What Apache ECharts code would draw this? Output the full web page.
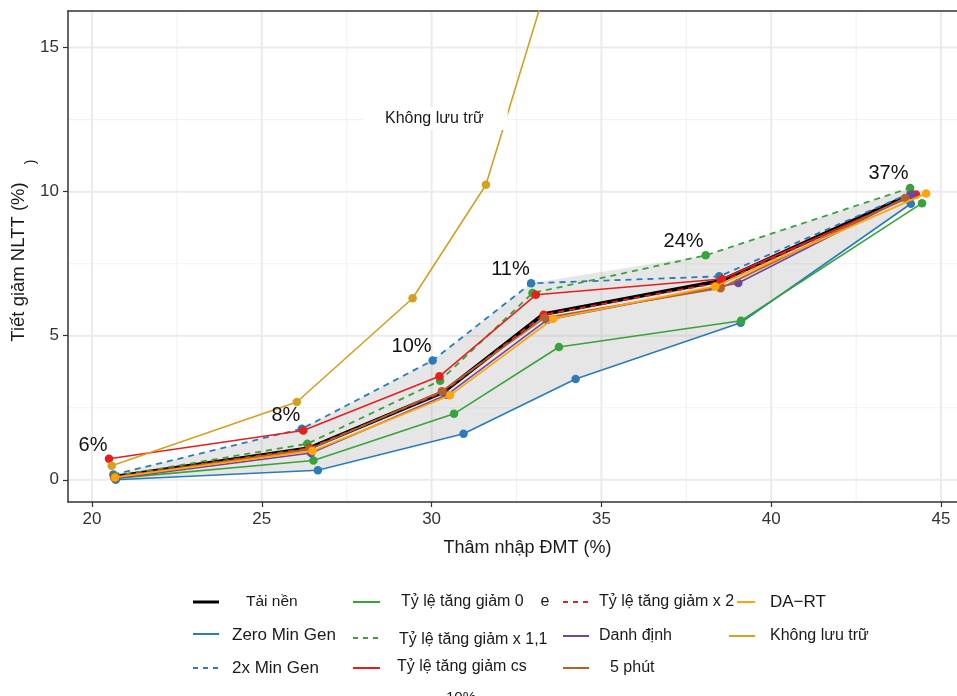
<!DOCTYPE html>
<html><head><meta charset="utf-8">
<script src="https://cdn.jsdelivr.net/npm/echarts@6/dist/echarts.min.js"></script>
<style>html,body{margin:0;padding:0;background:#fff}#c{width:957px;height:696px}</style>
</head><body><div id="c"></div>
<script>
// ---------- data ----------
const xTicks = [20, 25, 30, 35, 40, 45];
const yTicks = [0, 5, 10, 15];
const xMinor = [22.5, 27.5, 32.5, 37.5, 42.5];
const yMinor = [2.5, 7.5, 12.5];

const taiNen      = [[20.65,0.10],[26.40,1.10],[30.35,3.05],[33.30,5.75],[38.50,6.90],[44.10,9.90]];
const zeroMinGen  = [[20.70,0.00],[26.65,0.33],[30.94,1.60],[34.24,3.50],[39.10,5.45],[44.11,9.58]];
const twoMinGen   = [[20.63,0.18],[26.18,1.77],[30.03,4.14],[32.93,6.82],[38.47,7.06],[44.10,9.95]];
const tlg0        = [[20.68,0.05],[26.52,0.67],[30.66,2.29],[33.75,4.61],[39.11,5.52],[44.44,9.60]];
const tlg11       = [[20.65,0.12],[26.34,1.25],[30.25,3.44],[32.97,6.48],[38.07,7.79],[44.09,10.13]];
const tlgCs       = [[20.50,0.73],[26.22,1.71],[30.23,3.59],[33.07,6.42],[38.55,6.97],[44.26,9.90]];
const tlgX2       = [[20.65,0.10],[26.40,1.10],[30.35,3.05],[33.30,5.73],[38.50,6.85],[44.15,9.87]];
const danhDinh    = [[20.68,0.05],[26.45,0.93],[30.45,2.95],[33.40,5.55],[39.03,6.83],[44.14,9.90]];
const namPhut     = [[20.66,0.08],[26.40,1.06],[30.30,3.07],[33.32,5.62],[38.51,6.65],[43.94,9.78]];
const daRT        = [[20.68,0.08],[26.49,1.00],[30.54,2.93],[33.58,5.59],[38.35,6.71],[44.56,9.94]];
const khongLuuTru = [[20.58,0.49],[26.03,2.70],[29.44,6.30],[31.60,10.24],[35.00,23.40]];

const pctLabels = ['6%', '8%', '10%', '11%', '24%', '37%'];
const pctX = [20.03, 25.71, 29.41, 32.32, 37.42, 43.45];
const pctY = [1.19, 2.23, 4.63, 7.29, 8.28, 10.62];

// ---------- styles ----------
const FONT = 'Liberation Sans, Arial, Helvetica, sans-serif';
const seriesDefs = [
  {name:'Tải nền', data:taiNen, color:'#000000', width:3.8, dash:null, sym:false},
  {name:'Zero Min Gen', data:zeroMinGen, color:'#2b7bb9', width:1.6, dash:null, sym:true},
  {name:'2x Min Gen', data:twoMinGen, color:'#2b7bb9', width:1.8, dash:[6,5], sym:true},
  {name:'Tỷ lệ tăng giảm 0', data:tlg0, color:'#38a33a', width:1.6, dash:null, sym:true},
  {name:'Tỷ lệ tăng giảm x 1,1', data:tlg11, color:'#38a33a', width:1.8, dash:[6,5], sym:true},
  {name:'Tỷ lệ tăng giảm cs', data:tlgCs, color:'#e3201c', width:1.6, dash:null, sym:true},
  {name:'Tỷ lệ tăng giảm x 2', data:tlgX2, color:'#e3201c', width:1.8, dash:[6,5], sym:true},
  {name:'Danh định', data:danhDinh, color:'#6e479c', width:1.6, dash:null, sym:true},
  {name:'5 phút', data:namPhut, color:'#b5612c', width:1.8, dash:null, sym:true},
  {name:'DA-RT', data:daRT, color:'#ffa50a', width:1.8, dash:null, sym:true},
  {name:'Không lưu trữ', data:khongLuuTru, color:'#d4a020', width:1.6, dash:null, sym:true}
];
const envelope = [taiNen, zeroMinGen, twoMinGen, tlg0, tlg11, tlgX2, danhDinh, namPhut, daRT];

const legendLayout = {
  'Tải nền':               {lx:[193,219], ly:602, tx:246, ty:602, fs:15.5},
  'Zero Min Gen':          {lx:[193,219], ly:634, tx:232, ty:635, fs:17},
  '2x Min Gen':            {lx:[193,219], ly:668, tx:232, ty:668, fs:17},
  'Tỷ lệ tăng giảm 0':     {lx:[353,380], ly:602, tx:401, ty:602, fs:16},
  'Tỷ lệ tăng giảm x 1,1': {lx:[353,380], ly:638, tx:399, ty:640, fs:16},
  'Tỷ lệ tăng giảm cs':    {lx:[353,380], ly:668, tx:397, ty:667, fs:16},
  'Tỷ lệ tăng giảm x 2':   {lx:[563,589], ly:602, tx:599, ty:602, fs:16},
  'Danh định':             {lx:[563,589], ly:636, tx:599, ty:636, fs:16},
  '5 phút':                {lx:[563,589], ly:668, tx:610, ty:668, fs:16},
  'DA-RT':                 {lx:[737,755], ly:602, tx:770, ty:602, fs:17, label:'DA\u2212RT'},
  'Không lưu trữ':         {lx:[729,755], ly:636, tx:770, ty:636, fs:16}
};

const chart = echarts.init(document.getElementById('c'), null, {renderer:'canvas'});

const X_MIN = 19.293, X_MAX = 45.47, Y_MIN = -0.771, Y_MAX = 16.27;

const series = [];
// gridlines
series.push({
  type:'custom', name:'_grid', z:0, silent:true, data:[[30,5]],
  renderItem:function(params, api){
    const cs = params.coordSys;
    const ch = [];
    const vline = (v, major) => { const p = api.coord([v, 0]); ch.push({type:'line', shape:{x1:p[0], y1:cs.y, x2:p[0], y2:cs.y+cs.height}, style:{stroke: major?'#ebebeb':'#f2f2f2', lineWidth: major?2:1.1}}); };
    const hline = (v, major) => { const p = api.coord([20, v]); ch.push({type:'line', shape:{x1:cs.x, y1:p[1], x2:cs.x+cs.width, y2:p[1]}, style:{stroke: major?'#ebebeb':'#f2f2f2', lineWidth: major?2:1.1}}); };
    xMinor.forEach(v=>vline(v,false)); yMinor.forEach(v=>hline(v,false));
    xTicks.forEach(v=>vline(v,true)); yTicks.forEach(v=>hline(v,true));
    return {type:'group', children:ch};
  }
});
// ribbon
series.push({
  type:'custom', name:'_ribbon', z:1, silent:true, data:[[30,5]],
  renderItem:function(params, api){
    const up = [], lo = [];
    for (let i = 0; i < envelope[0].length; i++) {
      let mx = null, mn = null;
      envelope.forEach(s => { const p = s[i]; if (!mx || p[1] > mx[1]) mx = p; if (!mn || p[1] < mn[1]) mn = p; });
      up.push(api.coord(mx)); lo.push(api.coord(mn));
    }
    return {type:'polygon', shape:{points: up.concat(lo.reverse())}, style:{fill:'rgba(150,150,150,0.24)'}};
  }
});
seriesDefs.forEach((d, i) => {
  series.push({
    type:'line', name:d.name, data:d.data, z:3+i,
    showSymbol:d.sym, symbol:'circle', symbolSize:8.5,
    itemStyle:{color:d.color},
    lineStyle:{color:d.color, width:d.width, type: d.dash ? d.dash : 'solid'},
    clip:true, silent:true
  });
});
// percentage labels
series.push({
  type:'scatter', name:'_pct', z:30, symbolSize:0, silent:true,
  itemStyle:{opacity:1, color:'#1a1a1a'},
  data: pctX.map((x,i)=>[x, pctY[i]]),
  label:{show:true, position:'inside', formatter:(p)=>pctLabels[p.dataIndex], fontSize:20, color:'#111111', opacity:1, textBorderWidth:0, fontFamily:FONT}
});

// legend graphics
const graphic = [];
seriesDefs.forEach(d => {
  const L = legendLayout[d.name];
  graphic.push({type:'line', z:50, shape:{x1:L.lx[0], y1:L.ly, x2:L.lx[1], y2:L.ly},
    style:{stroke:d.color, lineWidth: d.name==='Tải nền'?3:2, lineDash: d.dash ? [5,5] : null}});
  graphic.push({type:'text', z:50, x:L.tx, y:L.ty, style:{text: L.label || d.name, fontSize:L.fs, fontFamily:FONT, fill:'#1a1a1a', align:'left', verticalAlign:'middle'}});
});
// titles & annotations
graphic.push({type:'text', z:50, x:527.5, y:548, style:{text:'Thâm nhập ĐMT (%)', fontSize:18, fontFamily:FONT, fill:'#1a1a1a', align:'center', verticalAlign:'middle'}});
graphic.push({type:'text', z:50, x:19, y:262, rotation:Math.PI/2, style:{text:'Tiết giảm NLTT (%)', fontSize:18.5, fontFamily:FONT, fill:'#1a1a1a', align:'center', verticalAlign:'middle'}});
graphic.push({type:'text', z:50, x:31, y:162, rotation:Math.PI/2, style:{text:')', fontSize:14, fontFamily:FONT, fill:'#1a1a1a', align:'center', verticalAlign:'middle'}});
graphic.push({type:'text', z:60, x:363, y:107, style:{text:'Không lưu trữ', fontSize:16, fontFamily:FONT, fill:'#1a1a1a', align:'left', verticalAlign:'top', backgroundColor:'#ffffff', padding:[4,24,3,22]}});
graphic.push({type:'text', z:50, x:545, y:602, style:{text:'e', fontSize:16, fontFamily:FONT, fill:'#1a1a1a', align:'center', verticalAlign:'middle'}});
graphic.push({type:'text', z:50, x:461, y:698, style:{text:'10%', fontSize:15, fontFamily:FONT, fill:'#1a1a1a', align:'center', verticalAlign:'middle'}});

const axisLineStyle = {color:'#333333', width:1.5};
chart.setOption({
  animation:false,
  backgroundColor:'#ffffff',
  grid:{left:68, right:0, top:11, bottom:194, containLabel:false},
  xAxis:[
    {type:'value', min:X_MIN, max:X_MAX, position:'bottom',
     axisLine:{show:true, onZero:false, lineStyle:axisLineStyle},
     axisTick:{show:true, length:5, customValues:xTicks, lineStyle:{color:'#333333', width:1.2}},
     axisLabel:{show:true, customValues:xTicks, margin:9, fontSize:17, color:'#333333', fontFamily:FONT},
     splitLine:{show:false}},
    {type:'value', min:X_MIN, max:X_MAX, position:'top',
     axisLine:{show:true, onZero:false, lineStyle:axisLineStyle},
     axisTick:{show:false}, axisLabel:{show:false}, splitLine:{show:false}}
  ],
  yAxis:{type:'value', min:Y_MIN, max:Y_MAX,
     axisLine:{show:true, onZero:false, lineStyle:axisLineStyle},
     axisTick:{show:true, length:5, customValues:yTicks, lineStyle:{color:'#333333', width:1.2}},
     axisLabel:{show:true, customValues:yTicks, margin:9, fontSize:17, color:'#333333', fontFamily:FONT},
     splitLine:{show:false}},
  series:series,
  graphic:graphic
});
</script></body></html>
